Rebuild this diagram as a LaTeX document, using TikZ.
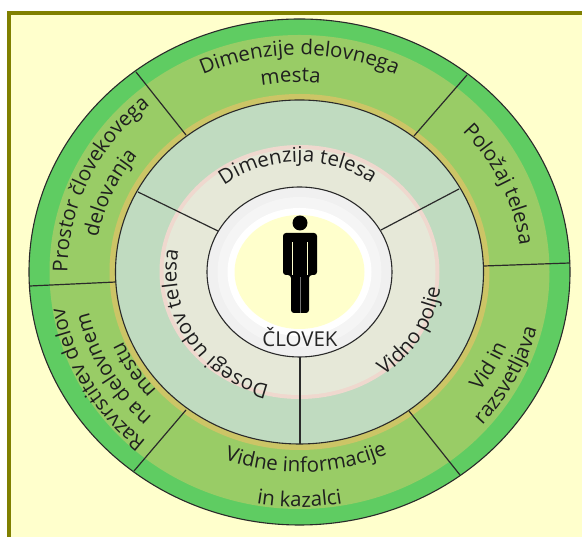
\documentclass[tikz,border=0pt]{standalone}
\usepackage{fontspec}
\setmainfont{Open Sans}
\usetikzlibrary{decorations.text}
\definecolor{frameol}{HTML}{808000}
\definecolor{paper}{HTML}{FFFFCC}
\definecolor{dkgreen}{HTML}{5FCC62}
\definecolor{ltgreen}{HTML}{99CC66}
\definecolor{olband}{HTML}{CCC566}
\definecolor{paleg}{HTML}{C0DBC0}
\definecolor{beige}{HTML}{E6E8D8}
\definecolor{pinkb}{HTML}{EFD8CE}
\definecolor{inkc}{HTML}{2A2A2A}
\newcommand{\tf}{\fontsize{20.5}{20.5}\selectfont\color{black!88}}
\newcommand{\ctext}[5]{% rx ry start end text
  \path[decorate,decoration={text along path,text align=center,text={|\tf|#5}}]
    [shift={(c)}] (#3:#1 and #2) arc[start angle=#3,end angle=#4,x radius=#1,y radius=#2];}
\newcommand{\ering}[3]{\fill[#3] (c) ellipse[x radius=#1,y radius=#2];}
\tikzset{edgeline/.style={draw=inkc,line width=1.1pt},spoke/.style={draw=inkc,line width=1.2pt}}
\begin{document}
\begin{tikzpicture}[x=1pt,y=1pt]
\useasboundingbox (0,0) rectangle (582,537);
\fill[white] (0,0) rectangle (582,537);
\fill[frameol] (7,0) rectangle (582,526);
\fill[paper] (11,0) rectangle (582,522);
\coordinate (c) at (299.5,265);
% outer ring
\ering{270.5}{253}{dkgreen}
\ering{250}{237}{ltgreen}
\ering{190}{178}{olband}
\draw[edgeline] (c) ellipse[x radius=270.5,y radius=253];
% inner ring
\ering{184}{172}{paleg}
\draw[edgeline] (c) ellipse[x radius=184,y radius=172];
\ering{140}{127}{pinkb}
\ering{136}{123}{beige}
% spokes
\coordinate (o1a) at (186,402); \coordinate (o1b) at (136,465);
\coordinate (o2a) at (414,401); \coordinate (o2b) at (467,462);
\coordinate (o3a) at (484,271); \coordinate (o3b) at (570,274);
\coordinate (o4a) at (409,126); \coordinate (o4b) at (460,62);
\coordinate (o5a) at (186,127); \coordinate (o5b) at (134,66);
\coordinate (o6a) at (116,255); \coordinate (o6b) at (30,251);
\coordinate (i1a) at (138,345); \coordinate (i1b) at (218,306);
\coordinate (i2a) at (459,348); \coordinate (i2b) at (381,307);
\coordinate (i3a) at (300,93);  \coordinate (i3b) at (300,180);
\foreach \a in {o1,o2,o3,o4,o5,o6,i1,i2,i3}{\draw[spoke] (\a a) -- (\a b);}
% centre disc
\ering{92.5}{85}{black!6}
\ering{82}{75}{black!4}
\ering{72}{64}{white}
\ering{65}{57}{paper}
\draw[edgeline] (c) ellipse[x radius=92.5,y radius=85];
% figure
\fill[black] (300,314) circle[radius=7.5];
\fill[black,rounded corners=3pt] (283,262) -- (283,304) -- (317,304) -- (317,262) -- (309,262) -- (309,224) -- (291,224) -- (291,262) -- cycle;
\draw[paper,line width=.8pt] (292.5,262) -- (292.5,295);
\draw[paper,line width=.8pt] (307.5,262) -- (307.5,295);
\draw[black!55,line width=.6pt] (300,224) -- (300,260);
\node[font=\fontsize{20.5}{20.5}\selectfont,text=black!85,inner sep=0pt] (clovek) at (300,200) {ČLOVEK};
% texts
\ctext{232}{217}{160}{20}{Dimenzije delovnega}
\ctext{205}{190}{132.5}{52.5}{mesta}
\ctext{222}{207}{87}{-39}{Položaj telesa}
\ctext{232}{218}{226}{86}{Prostor človekovega}
\ctext{205}{190}{217}{97}{delovanja}
\ctext{238}{222}{268.5}{148.5}{Razvrstitev delov}
\ctext{215}{199}{268}{148}{na delovnem}
\ctext{192}{177}{271}{151}{mestu}
\ctext{245}{230}{273}{393}{razsvetljava}
\ctext{222}{205}{273}{393}{Vid in}
\ctext{142}{128}{271}{391}{Vidno polje}
\ctext{123}{117}{282}{142}{Dosegi udov telesa}
\ctext{122}{110}{161}{21}{Dimenzija telesa}
\ctext{215}{200}{202}{342}{Vidne informacije}
\ctext{250}{235}{240}{300}{in kazalci}
\end{tikzpicture}
\end{document}
